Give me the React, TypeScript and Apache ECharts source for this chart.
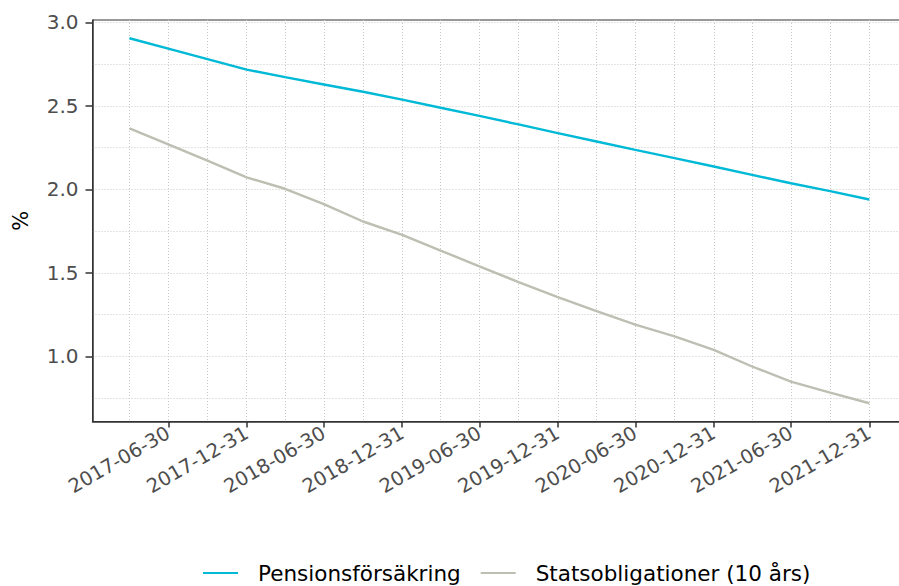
import React, { useEffect, useRef } from "react";
import * as echarts from "echarts";

// Quarterly observation dates
const dates = [
  "2017-03-31", "2017-06-30", "2017-09-30", "2017-12-31",
  "2018-03-31", "2018-06-30", "2018-09-30", "2018-12-31",
  "2019-03-31", "2019-06-30", "2019-09-30", "2019-12-31",
  "2020-03-31", "2020-06-30", "2020-09-30", "2020-12-31",
  "2021-03-31", "2021-06-30", "2021-09-30", "2021-12-31",
];

// Pensionsförsäkring (%)
const pension = [
  2.905, 2.843, 2.78, 2.717, 2.672, 2.628, 2.585, 2.538, 2.489, 2.44,
  2.389, 2.337, 2.287, 2.237, 2.187, 2.137, 2.087, 2.037, 1.99, 1.94,
];

// Statsobligationer (10 års) (%)
const statsobl = [
  2.366, 2.27, 2.172, 2.072, 2.004, 1.912, 1.808, 1.728, 1.634, 1.54,
  1.445, 1.355, 1.271, 1.191, 1.12, 1.04, 0.94, 0.85, 0.784, 0.72,
];

const seriesNames = ["Pensionsförsäkring", "Statsobligationer (10 års)"];

const xTickLabels = [
  "2017-06-30", "2017-12-31", "2018-06-30", "2018-12-31", "2019-06-30",
  "2019-12-31", "2020-06-30", "2020-12-31", "2021-06-30", "2021-12-31",
];
const xMinorBreaks = [
  "2017-03-31", "2017-09-30", "2018-03-31", "2018-09-30", "2019-03-31",
  "2019-09-30", "2020-03-31", "2020-09-30", "2021-03-31", "2021-09-30",
  "2022-03-31",
];
const yTickLabels = [1.0, 1.5, 2.0, 2.5, 3.0];
const yMinorBreaks = [0.75, 1.25, 1.75, 2.25, 2.75];

const toMs = (s: string) => {
  const [y, m, d] = s.split("-").map(Number);
  return Date.UTC(y, m - 1, d);
};
const pad2 = (n: number) => (n < 10 ? "0" + n : "" + n);
const fmtDate = (v: number) => {
  const d = new Date(Math.round(v / 86400000) * 86400000);
  return `${d.getUTCFullYear()}-${pad2(d.getUTCMonth() + 1)}-${pad2(d.getUTCDate())}`;
};

const FONT = "'DejaVu Sans', sans-serif";
const GRID_LINE = { color: "#c9c9c9", width: 1, type: [1, 2] as number[] };

export default function App() {
  const ref = useRef<HTMLDivElement>(null);

  useEffect(() => {
    if (!ref.current) return;
    const chart = echarts.init(ref.current, undefined, { renderer: "svg" });

    const xs = dates.map(toMs);
    const xSpan = xs[xs.length - 1] - xs[0];
    const xMin = xs[0] - 0.05 * xSpan;
    const xMax = xs[xs.length - 1] + 0.05 * xSpan;
    const allY = pension.concat(statsobl);
    const yLo = Math.min(...allY);
    const yHi = Math.max(...allY);
    const ySpan = yHi - yLo;
    const yMin = yLo - 0.05 * ySpan;
    const yMax = yHi + 0.05 * ySpan;

    const majorX = xTickLabels.map(toMs);
    const minorX = xMinorBreaks.map(toMs).filter((v) => v >= xMin && v <= xMax);

    chart.setOption({
      animation: false,
      backgroundColor: "#ffffff",
      textStyle: { fontFamily: FONT },
      grid: {
        left: 92.5,
        right: -7.3,
        top: 20,
        bottom: 164.5,
        outerBoundsMode: "none",
        containLabel: false,
        show: true,
        borderColor: "#333333",
        borderWidth: 1,
        backgroundColor: "transparent",
      },
      legend: {
        left: 198,
        top: 557,
        itemWidth: 35,
        itemHeight: 2,
        itemGap: 20,
        textStyle: { fontSize: 21.5, color: "#000000", fontFamily: FONT, padding: [0, 0, 0, 15] },
        data: seriesNames.map((n) => ({ name: n, icon: "rect" })),
      },
      xAxis: [
        {
          type: "value",
          min: xMin,
          max: xMax,
          axisLine: { show: true, onZero: false, lineStyle: { color: "#333333", width: 1.5 } },
          axisTick: { show: true, length: 6, lineStyle: { color: "#333333", width: 1.5 }, customValues: majorX },
          axisLabel: {
            customValues: majorX,
            rotate: 30,
            margin: 10,
            fontSize: 19.5,
            color: "#4d4d4d",
            fontFamily: FONT,
            formatter: (v: number) => fmtDate(v),
          },
          splitLine: { show: true, lineStyle: GRID_LINE },
        },
        {
          type: "value",
          min: xMin,
          max: xMax,
          axisLine: { show: false },
          axisTick: { show: false, customValues: minorX },
          axisLabel: { show: false },
          splitLine: { show: true, lineStyle: GRID_LINE },
        },
      ],
      yAxis: [
        {
          type: "value",
          min: yMin,
          max: yMax,
          name: "%",
          nameLocation: "middle",
          nameRotate: 90,
          nameGap: 61,
          nameTextStyle: { fontSize: 21, color: "#000000", fontFamily: FONT },
          axisLine: { show: true, onZero: false, lineStyle: { color: "#333333", width: 1.5 } },
          axisTick: { show: true, length: 7, lineStyle: { color: "#333333", width: 1.5 }, customValues: yTickLabels },
          axisLabel: {
            customValues: yTickLabels,
            margin: 14,
            fontSize: 20,
            color: "#4d4d4d",
            fontFamily: FONT,
            formatter: (v: number) => v.toFixed(1),
          },
          splitLine: { show: true, lineStyle: GRID_LINE },
        },
        {
          type: "value",
          min: yMin,
          max: yMax,
          axisLine: { show: false },
          axisTick: { show: false, customValues: yMinorBreaks },
          axisLabel: { show: false },
          splitLine: { show: true, lineStyle: GRID_LINE },
        },
      ],
      series: [
        {
          name: seriesNames[0],
          type: "line",
          data: xs.map((x, i) => [x, pension[i]]),
          showSymbol: false,
          symbol: "none",
          lineStyle: { color: "#00b9d6", width: 2.4 },
          itemStyle: { color: "#00b9d6" },
          z: 5,
        },
        {
          name: seriesNames[1],
          type: "line",
          data: xs.map((x, i) => [x, statsobl[i]]),
          showSymbol: false,
          symbol: "none",
          lineStyle: { color: "#bcbfb2", width: 2.4 },
          itemStyle: { color: "#bcbfb2" },
          z: 4,
        },
      ],
    });

    return () => chart.dispose();
  }, []);

  return (
    <div
      ref={ref}
      style={{ position: "fixed", left: 0, top: 0, width: 899, height: 586, background: "#fff" }}
    />
  );
}
